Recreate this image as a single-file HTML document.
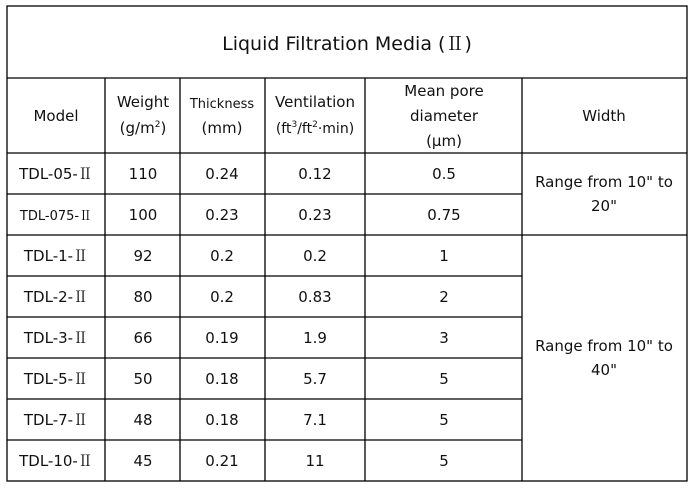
<!DOCTYPE html>
<html><head><style>
body{margin:0;background:#fff;width:698px;height:487px;overflow:hidden}
svg text{font-family:"DejaVu Sans","Noto Sans CJK SC",sans-serif;fill:#111;text-anchor:middle}
.r{font-family:"Noto Serif CJK SC",serif}
</style></head><body>
<svg width="698" height="487" xmlns="http://www.w3.org/2000/svg">
<g stroke="#000" stroke-width="1.3" fill="none">
<rect x="7" y="6" width="680" height="475"/>
<line x1="7" y1="78" x2="687" y2="78"/>
<line x1="7" y1="153" x2="687" y2="153"/>
<line x1="7" y1="194" x2="522" y2="194"/>
<line x1="7" y1="235" x2="687" y2="235"/>
<line x1="7" y1="276" x2="522" y2="276"/>
<line x1="7" y1="317" x2="522" y2="317"/>
<line x1="7" y1="358" x2="522" y2="358"/>
<line x1="7" y1="399" x2="522" y2="399"/>
<line x1="7" y1="440" x2="522" y2="440"/>
<line x1="105" y1="78" x2="105" y2="481"/>
<line x1="180" y1="78" x2="180" y2="481"/>
<line x1="265" y1="78" x2="265" y2="481"/>
<line x1="365" y1="78" x2="365" y2="481"/>
<line x1="522" y1="78" x2="522" y2="481"/>
</g>
<text x="347" y="50" font-size="19">Liquid Filtration Media (<tspan class="r">Ⅱ</tspan>)</text>
<g font-size="15">
<text x="56" y="121">Model</text>
<text x="143" y="107">Weight</text>
<text x="143" y="133">(g/m<tspan font-size="9" dy="-6">2</tspan><tspan dy="6">)</tspan></text>
<text x="222" y="108" font-size="13">Thickness</text>
<text x="222" y="133">(mm)</text>
<text x="315" y="107">Ventilation</text>
<text x="315" y="133" font-size="14">(ft<tspan font-size="9" dy="-6">3</tspan><tspan dy="6">/ft</tspan><tspan font-size="9" dy="-6">2</tspan><tspan dy="6">·min)</tspan></text>
<text x="444" y="96">Mean pore</text>
<text x="444" y="121">diameter</text>
<text x="444" y="146">(μm)</text>
<text x="604" y="121">Width</text>
<text x="604" y="187">Range from 10" to</text>
<text x="604" y="211">20"</text>
<text x="604" y="351">Range from 10" to</text>
<text x="604" y="375">40"</text>
</g>
<g font-size="15">
<text x="56" y="179">TDL-05-<tspan class="r">Ⅱ</tspan></text><text x="143" y="179">110</text><text x="222" y="179">0.24</text><text x="315" y="179">0.12</text><text x="444" y="179">0.5</text>
<text x="56" y="220" font-size="13">TDL-075-<tspan class="r">Ⅱ</tspan></text><text x="143" y="220">100</text><text x="222" y="220">0.23</text><text x="315" y="220">0.23</text><text x="444" y="220">0.75</text>
<text x="56" y="261">TDL-1-<tspan class="r">Ⅱ</tspan></text><text x="143" y="261">92</text><text x="222" y="261">0.2</text><text x="315" y="261">0.2</text><text x="444" y="261">1</text>
<text x="56" y="302">TDL-2-<tspan class="r">Ⅱ</tspan></text><text x="143" y="302">80</text><text x="222" y="302">0.2</text><text x="315" y="302">0.83</text><text x="444" y="302">2</text>
<text x="56" y="343">TDL-3-<tspan class="r">Ⅱ</tspan></text><text x="143" y="343">66</text><text x="222" y="343">0.19</text><text x="315" y="343">1.9</text><text x="444" y="343">3</text>
<text x="56" y="384">TDL-5-<tspan class="r">Ⅱ</tspan></text><text x="143" y="384">50</text><text x="222" y="384">0.18</text><text x="315" y="384">5.7</text><text x="444" y="384">5</text>
<text x="56" y="425">TDL-7-<tspan class="r">Ⅱ</tspan></text><text x="143" y="425">48</text><text x="222" y="425">0.18</text><text x="315" y="425">7.1</text><text x="444" y="425">5</text>
<text x="56" y="466">TDL-10-<tspan class="r">Ⅱ</tspan></text><text x="143" y="466">45</text><text x="222" y="466">0.21</text><text x="315" y="466">11</text><text x="444" y="466">5</text>
</g>
</svg>
</body></html>
